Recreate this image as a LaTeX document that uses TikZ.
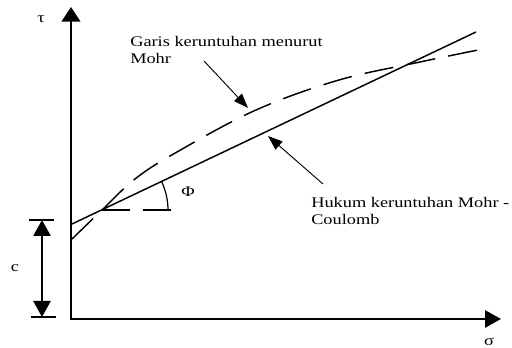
\documentclass[tikz,border=0pt]{standalone}
\usepackage{fontspec}
\setmainfont{Liberation Serif}[FakeStretch=1.25]
\usetikzlibrary{arrows.meta}

\begin{document}
\begin{tikzpicture}[
  x=0.75pt, y=0.75pt, font=\fontsize{11}{13}\selectfont,
  axis/.style={line width=1.5pt, {Triangle[length=11pt, width=14pt]}-{Triangle[length=12pt, width=13pt]}},
  envelope/.style={line width=1.1pt, dash pattern=on 22pt off 10pt},
  dim/.style={line width=1.1pt, {Triangle[length=12pt, width=13pt]}-{Triangle[length=12pt, width=13pt]}},
  ptr/.style={line width=0.7pt, -{Triangle[length=11pt, width=8pt]}},
  lbl/.style={align=left, inner sep=0pt}]
\useasboundingbox (0,0) rectangle (512,348);
% --- axes
\coordinate (O) at (71,29);
\coordinate (tauend) at (71,341);
\coordinate (sigend) at (501,29);
\draw[axis] (tauend) -- (O) -- (sigend);
\node (tau) at (41,329) {τ};
\node (sig) at (489,6) {σ};
% --- Mohr-Coulomb line and Mohr envelope
\coordinate (c0) at (72,124);
\coordinate (mcend) at (476,316);
\draw[line width=1.1pt] (c0) -- (mcend);
\draw[envelope] plot[smooth, tension=0.6] coordinates {(72,109) (100,136) (135,169) (177,196) (256,238) (339,268) (420,286) (488,300)};
% --- friction angle
\coordinate (phi0) at (102,138);
\coordinate (phiend) at (177,138);
\draw[envelope, dash pattern=on 21pt off 10pt] (phi0) -- (phiend);
\draw[line width=0.9pt] (phi0) ++(66,0) arc[start angle=0, end angle=25.4, radius=66];
\node (phi) at (188,156) {Φ};
% --- cohesion
\coordinate (ctop) at (42,128);
\coordinate (cbot) at (42,31);
\draw[line width=1.1pt] (ctop) ++(-13,0) -- ++(25,0);
\draw[line width=1.1pt] (cbot) ++(-11,0) -- ++(25,0);
\draw[dim] (ctop) -- (cbot);
\node (c) at (15,80) {c};
% --- labels
\node[lbl, anchor=west] (lblenv) at (130,298) {Garis keruntuhan menurut\\Mohr};
\node[lbl, anchor=west] (lblmc) at (311,137) {Hukum keruntuhan Mohr -\\Coulomb};
\coordinate (fromenv) at (204,287);
\coordinate (tipenv) at (248,240);
\coordinate (frommc) at (323,164);
\coordinate (tipmc) at (268,212);
\draw[ptr] (fromenv) -- (tipenv);
\draw[ptr] (frommc) -- (tipmc);
\end{tikzpicture}
\end{document}
